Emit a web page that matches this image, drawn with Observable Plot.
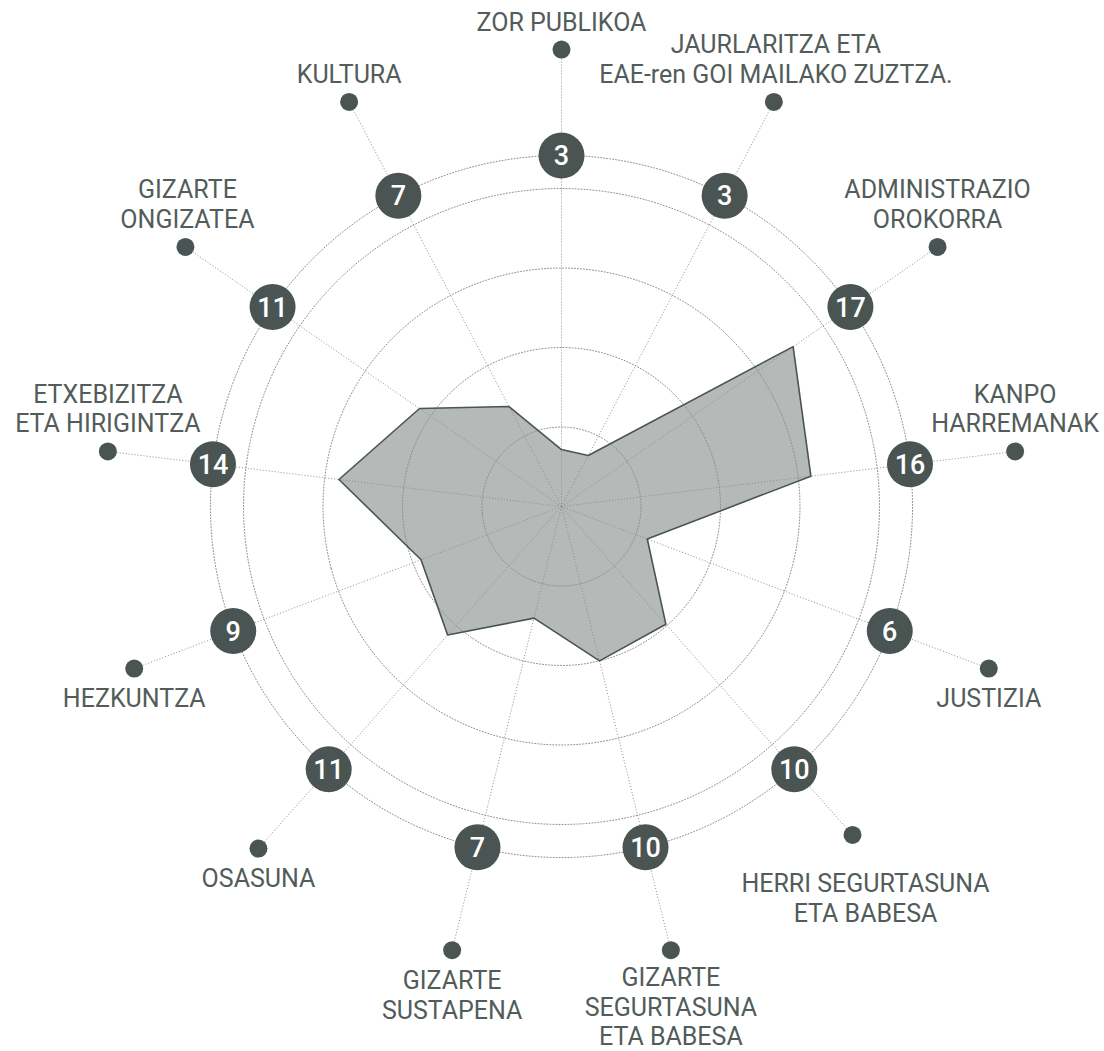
<!DOCTYPE html>
<html>
<head>
<meta charset="utf-8">
<script src="https://cdn.jsdelivr.net/npm/d3@7"></script>
<script src="https://cdn.jsdelivr.net/npm/@observablehq/plot@0.6"></script>
<style>
  html, body { margin: 0; padding: 0; background: #fff; }
  #chart svg { display: block; }
</style>
</head>
<body>
<div id="chart"></div>
<script>
// ---- data (clockwise from the top) ----
const categories = [
  "ZOR PUBLIKOA",
  "JAURLARITZA ETA\nEAE-ren GOI MAILAKO ZUZTZA.",
  "ADMINISTRAZIO\nOROKORRA",
  "KANPO\nHARREMANAK",
  "JUSTIZIA",
  "HERRI SEGURTASUNA\nETA BABESA",
  "GIZARTE\nSEGURTASUNA\nETA BABESA",
  "GIZARTE\nSUSTAPENA",
  "OSASUNA",
  "HEZKUNTZA",
  "ETXEBIZITZA\nETA HIRIGINTZA",
  "GIZARTE\nONGIZATEA",
  "KULTURA"
];
const counts = [3, 3, 17, 16, 6, 10, 10, 7, 11, 9, 14, 11, 7];
const values = [3.58, 3.62, 17.7, 15.8, 5.77, 9.9, 10.0, 7.23, 10.8, 9.45, 14.1, 10.85, 7.1];
const gridRings = [5, 10, 15, 20];

// ---- layout constants ----
const N = categories.length;
const RING = 22.08;      // ring carrying the number badges
const DOT_R = 28.74;     // ring carrying the label dots
const DOMAIN_R = 30;
const dotRadiusOverride = {5: 27.6};
const labelNudge = {5: [1, 5], 6: [0, -3], 11: [2, 0], 1: [2, 0]};

const DARK = "#4a5553";
const GRID = "#8e8e8e";
const TEXT = "#525c5a";

const rows = categories.map((name, i) => ({
  i, name, count: counts[i], value: values[i],
  lon: 180 - i * 360 / N,
  dotR: dotRadiusOverride[i] ?? DOT_R,
  up: Math.cos(i * 2 * Math.PI / N) > 0
}));

const dotted = {stroke: GRID, strokeWidth: 1, strokeDasharray: "1 2"};

const labelMarks = rows.map(d => {
  const [nx, ny] = labelNudge[d.i] || [0, 0];
  return Plot.text([d], {
    x: "lon", y: 90 - DOT_R, text: "name",
    lineAnchor: d.up ? "bottom" : "top",
    dy: (d.up ? -19 : 18) + ny, dx: nx,
    fontSize: 25, lineHeight: 1.18, fill: TEXT, textAnchor: "middle"
  });
});

const chart = Plot.plot({
  width: 1104, height: 1051,
  marginLeft: 84, marginRight: 66, marginTop: 29, marginBottom: 68,
  projection: {
    type: "azimuthal-equidistant",
    rotate: [0, -90],
    domain: d3.geoCircle().center([0, 90]).radius(DOMAIN_R)()
  },
  style: {fontFamily: "Roboto, sans-serif", background: "#fff", overflow: "visible"},
  marks: [
    Plot.line(rows, {x: "lon", y: d => 90 - d.value, curve: "linear-closed", fill: "#b5b9b8", stroke: "none"}),
    Plot.geo([...gridRings, RING], {geometry: r => d3.geoCircle().center([0, 90]).radius(r)(), fill: "none", ...dotted}),
    Plot.link(rows, {x1: "lon", y1: 90, x2: "lon", y2: d => 90 - d.dotR, ...dotted}),
    Plot.line(rows, {x: "lon", y: d => 90 - d.value, curve: "linear-closed", fill: "none", stroke: DARK, strokeWidth: 1.6}),
    Plot.dot(rows, {x: "lon", y: 90 - RING, r: 23, fill: DARK, stroke: "none"}),
    Plot.text(rows, {x: "lon", y: 90 - RING, text: "count", fill: "#fff", fontSize: 27, fontWeight: 500, lineAnchor: "middle", dy: 1}),
    Plot.dot(rows, {x: "lon", y: d => 90 - d.dotR, r: 9, fill: DARK, stroke: "none"}),
    ...labelMarks
  ]
});
document.getElementById("chart").append(chart);
</script>
</body>
</html>
